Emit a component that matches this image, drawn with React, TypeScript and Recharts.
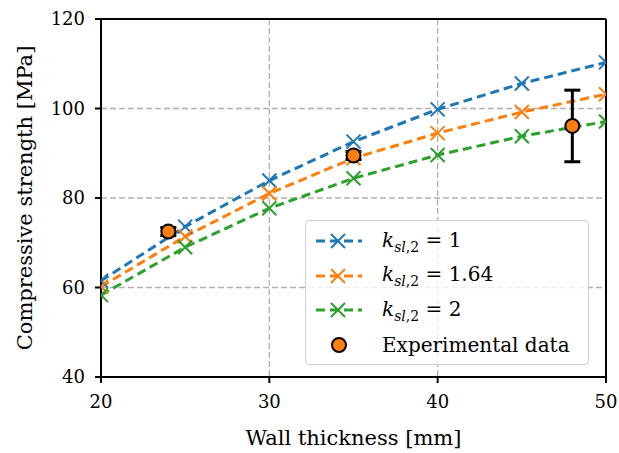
import React from 'react';
import { ComposedChart, Line, Scatter, XAxis, YAxis, CartesianGrid, ErrorBar, ReferenceLine } from 'recharts';

const thickness = [20, 25, 30, 35, 40, 45, 50];
const ksl1 = [61.5, 73.6, 83.9, 92.6, 99.8, 105.6, 110.3];
const ksl164 = [60.2, 71.4, 81.0, 88.9, 94.5, 99.2, 103.2];
const ksl2 = [58.3, 69.0, 77.7, 84.4, 89.6, 93.8, 97.1];

const expThickness = [24, 35, 48];
const expStrength = [72.5, 89.5, 96.1];
const expError = [0.9, 0.9, 8];

const xTicks = [20, 30, 40, 50];
const yTicks = [40, 60, 80, 100, 120];

const BLUE = '#1f77b4';
const ORANGE = '#ff7f0e';
const GREEN = '#2ca02c';
const FONT = '"DejaVu Serif", "Liberation Serif", serif';

const rows = thickness.map((x, i) => ({ x, k1: ksl1[i], k164: ksl164[i], k2: ksl2[i] }));
const expRows = expThickness.map((x, i) => ({ x, y: expStrength[i], err: expError[i] }));

const series = [
  { key: 'k1', color: BLUE, value: '1' },
  { key: 'k164', color: ORANGE, value: '1.64' },
  { key: 'k2', color: GREEN, value: '2' },
];

const crossDot = (color) => (props) => {
  const { cx, cy, index } = props;
  if (cx == null || cy == null) return null;
  const s = 7;
  return (
    <g key={`d-${index}`}>
      <line x1={cx - s} y1={cy - s} x2={cx + s} y2={cy + s} stroke={color} strokeWidth={2} />
      <line x1={cx - s} y1={cy + s} x2={cx + s} y2={cy - s} stroke={color} strokeWidth={2} />
    </g>
  );
};

const expDot = (props) => {
  const { cx, cy } = props;
  return <circle cx={cx} cy={cy} r={7} fill={ORANGE} stroke="black" strokeWidth={2} />;
};

const LegendBox = () => (
  <div
    style={{
      position: 'absolute',
      left: 305,
      top: 220,
      fontFamily: FONT,
      fontSize: 20,
      color: 'black',
      background: 'rgba(255,255,255,0.8)',
      border: '1.5px solid #d0d0d0',
      borderRadius: 4,
      width: 284,
      height: 145,
      boxSizing: 'border-box',
      padding: '3px 0 0 8px',
    }}
  >
    {series.map((s) => (
      <div key={s.key} style={{ display: 'flex', alignItems: 'center', height: 34.5 }}>
        <svg width={60} height={20} style={{ marginRight: 8, flexShrink: 0 }}>
          <line x1={2} y1={10} x2={48} y2={10} stroke={s.color} strokeWidth={3} strokeDasharray="9 5" />
          <line x1={17} y1={3} x2={31} y2={17} stroke={s.color} strokeWidth={2} />
          <line x1={17} y1={17} x2={31} y2={3} stroke={s.color} strokeWidth={2} />
        </svg>
        <span style={{ whiteSpace: 'nowrap' }}>
          <i>k</i>
          <sub style={{ fontSize: 14 }}><i>sl</i>,2</sub> = {s.value}
        </span>
      </div>
    ))}
    <div style={{ display: 'flex', alignItems: 'center', height: 34.5 }}>
      <svg width={60} height={20} style={{ marginRight: 8, flexShrink: 0 }}>
        <circle cx={25} cy={10} r={7} fill={ORANGE} stroke="black" strokeWidth={2} />
      </svg>
      <span style={{ whiteSpace: 'nowrap' }}>Experimental data</span>
    </div>
  </div>
);

const App = () => {
  const tickStyle = { fill: 'black', fontFamily: FONT, fontSize: 18 };
  return (
    <div style={{ position: 'absolute', left: 0, top: 0, width: 619, height: 453, background: 'white' }}>
      <ComposedChart width={619} height={453} data={rows} margin={{ top: 19, right: 13, left: 0, bottom: 0 }}>
        <CartesianGrid stroke="#b0b0b0" strokeDasharray="6 3" strokeWidth={1.3} />
        <XAxis
          dataKey="x"
          type="number"
          domain={[20, 50]}
          ticks={xTicks}
          allowDataOverflow
          height={76}
          stroke="black"
          strokeWidth={2}
          tickSize={6}
          tickMargin={12}
          tick={tickStyle}
          label={{ value: 'Wall thickness [mm]', position: 'insideBottom', offset: 8, style: { fill: 'black', fontFamily: FONT, fontSize: 21 } }}
        />
        <YAxis
          type="number"
          domain={[40, 120]}
          ticks={yTicks}
          allowDataOverflow
          width={101}
          stroke="black"
          strokeWidth={2}
          tickSize={6}
          tickMargin={10}
          tick={tickStyle}
          label={{
            content: () => (
              <text
                x={25}
                y={198}
                transform="rotate(-90 25 198)"
                textAnchor="middle"
                dominantBaseline="central"
                fill="black"
                style={{ fontFamily: FONT, fontSize: 21 }}
              >
                Compressive strength [MPa]
              </text>
            ),
          }}
        />
        <ReferenceLine y={120} stroke="black" strokeWidth={2} />
        <ReferenceLine x={50} stroke="black" strokeWidth={2} />
        {series.map((s) => (
          <Line
            key={s.key}
            dataKey={s.key}
            stroke={s.color}
            strokeWidth={3}
            strokeDasharray="9 5"
            dot={crossDot(s.color)}
            activeDot={false}
            isAnimationActive={false}
          />
        ))}
        <Scatter data={expRows} dataKey="y" shape={expDot} isAnimationActive={false}>
          <ErrorBar dataKey="err" direction="y" width={8} strokeWidth={3} stroke="black" />
        </Scatter>
      </ComposedChart>
      <LegendBox />
    </div>
  );
};

export default App;
